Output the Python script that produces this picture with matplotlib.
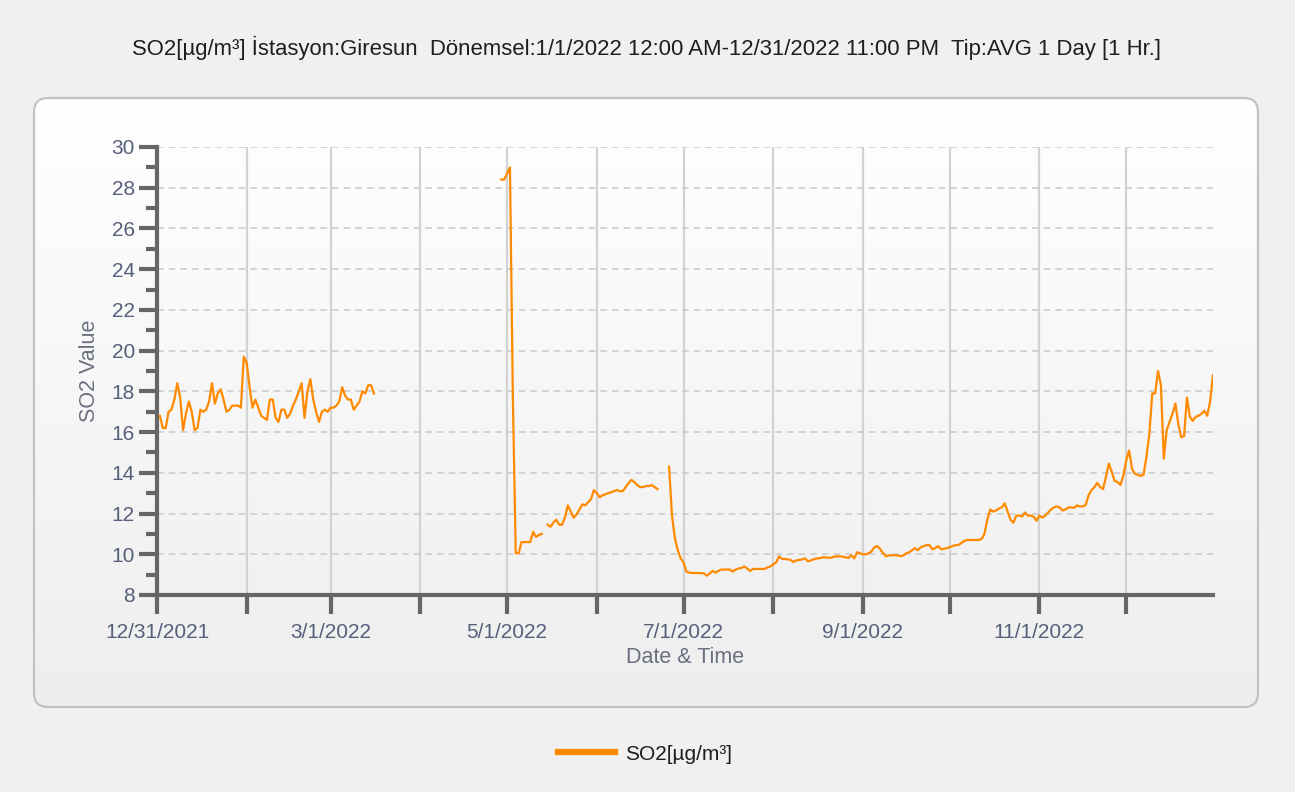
import numpy as np
import pandas as pd
import matplotlib
matplotlib.use("Agg")
import matplotlib.pyplot as plt
from matplotlib.patches import FancyBboxPatch
from matplotlib.colors import LinearSegmentedColormap
from matplotlib.ticker import MultipleLocator

plt.rcParams['font.family'] = ['Liberation Sans', 'DejaVu Sans']

TITLE = ("SO2[µg/m³] İstasyon:Giresun  Dönemsel:1/1/2022 12:00 AM-12/31/2022 11:00 PM"
         "  Tip:AVG 1 Day [1 Hr.]")
SERIES_NAME = "SO2[µg/m³]"

# daily averages (nan = missing day)
jan_mar_start = "2022-01-01"
jan_mar = [
    16.8, 16.2, 16.2, 17.0, 17.1, 17.6, 18.4, 17.7, 16.1, 16.9,
    17.5, 17.0, 16.1, 16.2, 17.1, 17.0, 17.1, 17.5, 18.4, 17.4,
    17.9, 18.1, 17.6, 17.0, 17.1, 17.3, 17.3, 17.3, 17.2, 19.7,
    19.4, 18.2, 17.2, 17.6, 17.2, 16.8, 16.7, 16.6, 17.6, 17.6,
    16.7, 16.5, 17.1, 17.1, 16.7, 16.9, 17.3, 17.6, 18.0, 18.4,
    16.7, 18.0, 18.6, 17.6, 17.0, 16.5, 17.0, 17.1, 17.0, 17.2,
    17.2, 17.3, 17.5, 18.2, 17.8, 17.6, 17.6, 17.1, 17.3, 17.5,
    18.0, 17.9, 18.3, 18.3, 17.9,
]

apr_jun_start = "2022-04-29"
apr_jun = [
    28.4, 28.4, 28.7, 29.0, 17.7, 10.05, 10.05, 10.6, 10.6, 10.6,
    10.6, 11.1, 10.85, 10.95, 11.0, np.nan, 11.45, 11.35, 11.55, 11.7,
    11.45, 11.45, 11.8, 12.4, 12.1, 11.8, 11.95, 12.2, 12.45, 12.4,
    12.55, 12.7, 13.15, 13.0, 12.8, 12.9, 12.95, 13.0, 13.05, 13.1,
    13.15, 13.1, 13.1, 13.3, 13.5, 13.65, 13.55, 13.4, 13.3, 13.3,
    13.35, 13.35, 13.4, 13.3, 13.2,
]

jun_dec_start = "2022-06-26"
jun_dec = [
    14.3, 11.9, 10.8, 10.2, 9.8, 9.6, 9.15,
    9.1, 9.08, 9.08, 9.08, 9.07, 9.07, 8.95, 9.05, 9.18, 9.1,
    9.18, 9.25, 9.25, 9.25, 9.25, 9.15, 9.25, 9.3, 9.33, 9.4,
    9.3, 9.18, 9.28, 9.28, 9.28, 9.28, 9.28, 9.35, 9.4, 9.5,
    9.6, 9.9, 9.77, 9.77, 9.75, 9.72, 9.62, 9.7, 9.72, 9.75,
    9.8, 9.65, 9.7, 9.75, 9.8, 9.8, 9.85, 9.85, 9.83, 9.83,
    9.88, 9.9, 9.9, 9.88, 9.85, 9.82, 9.95, 9.8, 10.1, 10.05,
    10.0, 10.0, 10.05, 10.15, 10.35, 10.4, 10.25, 10.05, 9.9, 9.95,
    9.95, 9.95, 9.95, 9.9, 9.95, 10.05, 10.1, 10.2, 10.3, 10.2,
    10.35, 10.4, 10.45, 10.45, 10.25, 10.3, 10.4, 10.25, 10.27, 10.3,
    10.35, 10.4, 10.45, 10.45, 10.55, 10.65, 10.7, 10.7, 10.7, 10.7,
    10.7, 10.75, 11.0, 11.7, 12.2, 12.1, 12.15, 12.25, 12.3,
    12.5, 12.1, 11.7, 11.55, 11.9, 11.9, 11.85, 12.05, 11.9, 11.9,
    11.85, 11.65, 11.9, 11.8, 11.9, 12.05, 12.2, 12.3, 12.35, 12.3,
    12.15, 12.2, 12.3, 12.3, 12.28, 12.4, 12.35, 12.35, 12.42, 12.9,
    13.15, 13.3, 13.5, 13.3, 13.2, 13.8, 14.45, 14.05, 13.6, 13.55,
    13.4, 13.85, 14.6, 15.1, 14.2, 13.95, 13.9, 13.85, 13.9, 14.8,
    15.9, 17.9, 17.9, 19.0, 18.3, 14.7, 16.1, 16.5, 16.9, 17.4,
    16.4, 15.75, 15.8, 17.7, 16.75, 16.55, 16.75, 16.8, 16.9, 17.05,
    16.8, 17.5, 18.8,
]

tick_dates = ["2021-12-31", "2022-01-31", "2022-03-01", "2022-04-01", "2022-05-01",
              "2022-06-01", "2022-07-01", "2022-08-01", "2022-09-01", "2022-10-01",
              "2022-11-01", "2022-12-01"]
tick_labels = ["12/31/2021", "", "3/1/2022", "", "5/1/2022", "", "7/1/2022", "",
               "9/1/2022", "", "11/1/2022", ""]


def segment(start, values):
    idx = pd.date_range(start, periods=len(values), freq="D")
    return pd.Series(values, index=idx, dtype=float)


series = pd.concat([segment(jan_mar_start, jan_mar),
                    segment(apr_jun_start, apr_jun),
                    segment(jun_dec_start, jun_dec)])
# full daily index so the gaps break the line
series = series.reindex(pd.date_range("2022-01-01", "2022-12-31", freq="D"))

W, H = 1295, 792
fig = plt.figure(figsize=(W / 100, H / 100), dpi=100, facecolor="#F0F0F0")

# rounded panel with a soft vertical gradient
bg = fig.add_axes([0, 0, 1, 1])
bg.axis("off")
panel = FancyBboxPatch((34, 98), 1224, 609, boxstyle="round,pad=0,rounding_size=14",
                       fc="none", ec="#c2c2c2", lw=1.6, zorder=3)
bg.add_patch(panel)
grad = np.linspace(0, 1, 256).reshape(-1, 1)
cmap = LinearSegmentedColormap.from_list("panel", ["#ffffff", "#eeeeee"])
im = bg.imshow(grad, cmap=cmap, extent=(34, 1258, 707, 98), aspect="auto", zorder=1)
im.set_clip_path(panel)
bg.set_xlim(0, W)
bg.set_ylim(H, 0)

fig.text(647 / W, 1 - 48 / H, TITLE, ha="center", va="center", fontsize=15.9, color="#1e1e1e")

# plot area
left, right, top, bottom = 157, 1213, 147, 595
ax = fig.add_axes([left / W, 1 - bottom / H, (right - left) / W, (bottom - top) / H])
ax.set_facecolor("none")
ax.plot(series.index, series.values, color="#FF8A00", lw=1.6, label=SERIES_NAME, zorder=3)

ax.set_ylim(8, 30)
ax.set_xlim(pd.Timestamp("2021-12-31"), pd.Timestamp("2022-12-31"))
ax.yaxis.set_major_locator(MultipleLocator(2))
ax.yaxis.set_minor_locator(MultipleLocator(1))
ax.set_xticks(pd.to_datetime(tick_dates))
ax.set_xticklabels(tick_labels)

ax.yaxis.grid(True, which="major", ls=(0, (4, 3)), color="#cdcdcd", lw=1.2)
ax.xaxis.grid(True, color="#d2d2d2", lw=1.6)
ax.set_axisbelow(True)

for side in ("top", "right"):
    ax.spines[side].set_visible(False)
for side in ("left", "bottom"):
    ax.spines[side].set_color("#666666")
    ax.spines[side].set_linewidth(3)

label_color = "#56607a"
ax.tick_params(axis="y", which="major", length=13, width=3, color="#666666",
               labelsize=15, labelcolor=label_color, pad=3)
ax.tick_params(axis="y", which="minor", length=8, width=3, color="#666666")
ax.tick_params(axis="x", which="major", length=14, width=3, color="#666666",
               labelsize=15, labelcolor=label_color, pad=6)

ax.set_ylabel("SO2 Value", fontsize=15.5, color="#6a7080", labelpad=8)
ax.set_xlabel("Date & Time", fontsize=15.5, color="#6a7080", labelpad=4)

fig.legend(loc="center", bbox_to_anchor=(645 / W, 1 - 754 / H), frameon=False,
           fontsize=15, handlelength=2.75, handletextpad=0.5, labelcolor="#1e1e1e")
for line in fig.legends[0].get_lines():
    line.set_linewidth(4.5)

fig.savefig("out.png", dpi=100, facecolor=fig.get_facecolor())
